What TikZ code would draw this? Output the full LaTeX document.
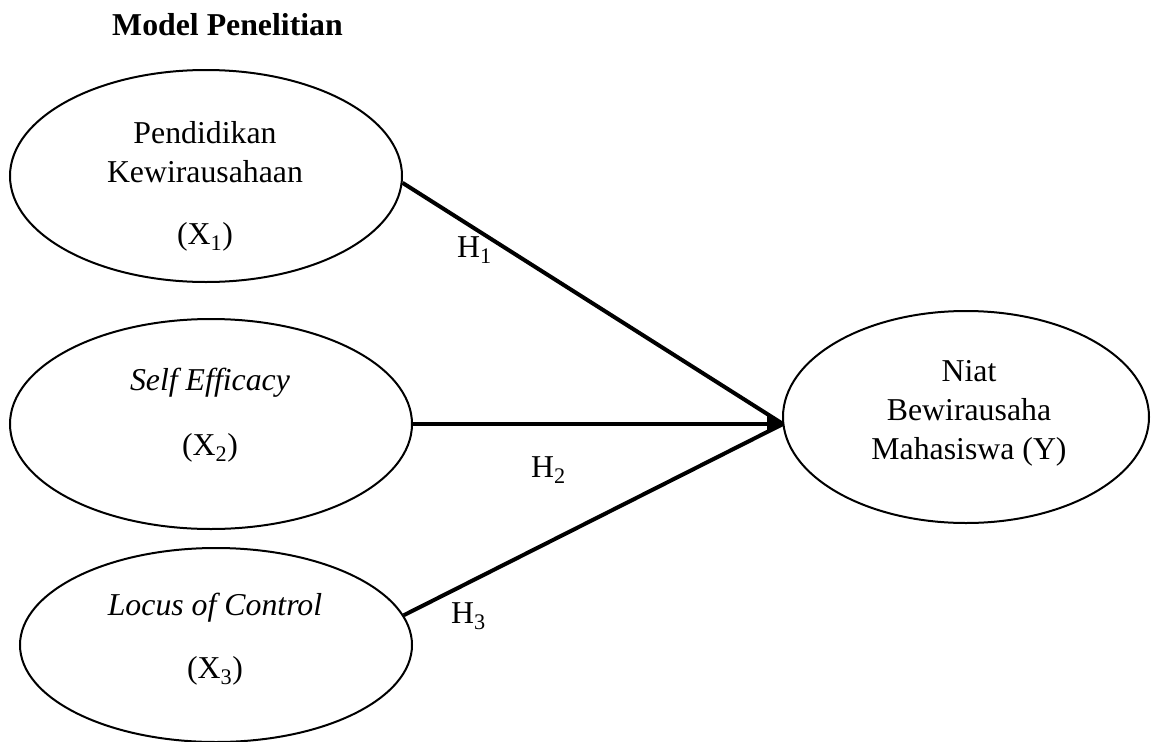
\documentclass[tikz,border=0pt]{standalone}
\usepackage{fontspec}
\setmainfont{Liberation Serif}
\usetikzlibrary{shapes.geometric,arrows.meta}
\tikzset{
  var/.style={draw=black, line width=2pt, ellipse, inner sep=0pt},
  txt/.style={anchor=base, inner sep=0pt, font=\fontsize{31.8}{38}\selectfont},
  conn/.style={draw=black, line width=4pt},
}
\begin{document}
\begin{tikzpicture}[x=1pt,y=-1pt]
\useasboundingbox (0,0) rectangle (1152,742);
% ellipses
\node[var, minimum width=392pt, minimum height=212pt] (x1) at (206,176) {};
\node[var, minimum width=402pt, minimum height=210pt] (x2) at (211,424) {};
\node[var, minimum width=392pt, minimum height=194pt] (x3) at (216,645) {};
\node[var, minimum width=366pt, minimum height=212pt] (y) at (966,417) {};
% texts
\node[txt, font=\fontsize{31.8}{38}\selectfont\bfseries] (title) at (227.5,35) {Model Penelitian};
\node[txt] (t1a) at (205,143) {Pendidikan};
\node[txt] (t1b) at (205,182) {Kewirausahaan};
\node[txt] (t1c) at (205,244) {(X\textsubscript{1})};
\node[txt] (t2a) at (210,390) {\itshape Self Efficacy};
\node[txt] (t2b) at (210,455) {(X\textsubscript{2})};
\node[txt] (t3a) at (215,615) {\itshape Locus of Control};
\node[txt] (t3b) at (215,678) {(X\textsubscript{3})};
\node[txt] (ya) at (969,381) {Niat};
\node[txt] (yb) at (969,420) {Bewirausaha};
\node[txt] (yc) at (969,459) {Mahasiswa (Y)};
% connectors
\coordinate (tip) at (783,424);
\draw[conn] (x1.-2) -- (tip);
\draw[conn] (x3.9) -- (tip);
\draw[conn, -{Triangle[length=16pt,width=15pt]}] (x2.east) -- (tip);
% hypothesis labels
\node[txt, anchor=base west] (h1) at (457,257) {H\textsubscript{1}};
\node[txt, anchor=base west] (h2) at (531,477) {H\textsubscript{2}};
\node[txt, anchor=base west] (h3) at (451,623) {H\textsubscript{3}};
\end{tikzpicture}
\end{document}
